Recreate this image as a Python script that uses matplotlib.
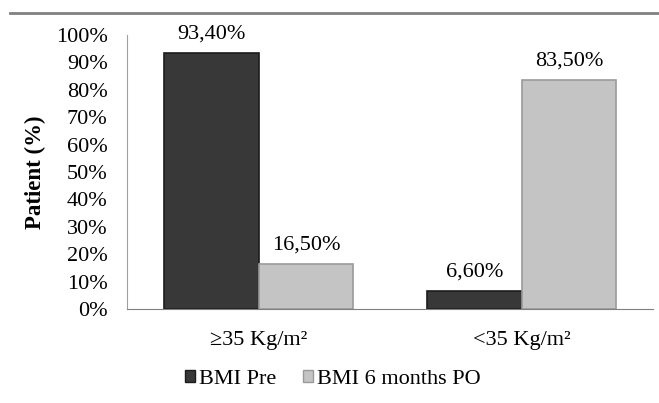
import matplotlib.pyplot as plt
import numpy as np
from matplotlib.lines import Line2D
from matplotlib.patches import Patch

plt.rcParams['font.family'] = ['Liberation Serif', 'DejaVu Serif']

categories = ['≥35 Kg/m²', '<35 Kg/m²']
series_names = ['BMI Pre', 'BMI 6 months PO']
bmi_pre = [93.4, 6.6]
bmi_6m = [16.5, 83.5]
labels_pre = ['93,40%', '6,60%']
labels_6m = ['16,50%', '83,50%']

colors = ['#383838', '#c4c4c4']
edges = ['#1c1c1c', '#9a9a9a']

fig = plt.figure(figsize=(6.59, 4.03), dpi=100)
ax = fig.add_axes([0.193, 0.233, 0.798, 0.680])

x = np.arange(len(categories))
w = 0.36
b1 = ax.bar(x - w / 2, bmi_pre, w, color=colors[0], edgecolor=edges[0], linewidth=1.2)
b2 = ax.bar(x + w / 2, bmi_6m, w, color=colors[1], edgecolor=edges[1], linewidth=1.2)

for bars, labs in [(b1, labels_pre), (b2, labels_6m)]:
    for r, t in zip(bars, labs):
        ax.annotate(t, (r.get_x() + r.get_width() / 2, r.get_height()),
                    xytext=(0, 7), textcoords='offset points',
                    ha='center', va='bottom', fontsize=16)

ax.set_xlim(-0.5, 1.5)
ax.set_ylim(0, 100)
ax.set_yticks(range(0, 101, 10))
ax.set_yticklabels([f'{v}%' for v in range(0, 101, 10)])
ax.set_xticks(x)
ax.set_xticklabels(categories)
ax.tick_params(axis='y', length=0, pad=14, labelsize=16)
ax.tick_params(axis='x', length=0, pad=16, labelsize=16)
ax.set_ylabel('Patient (%)', fontsize=16.5, fontweight='bold', labelpad=7)

for s in ['top', 'right']:
    ax.spines[s].set_visible(False)
ax.spines['left'].set_color('#a0a0a0')
ax.spines['bottom'].set_color('#808080')

handles = [Patch(facecolor=colors[0], edgecolor=edges[0]),
           Patch(facecolor=colors[1], edgecolor=edges[1])]
fig.legend(handles, series_names, loc='center', bbox_to_anchor=(0.505, 0.058),
           ncol=2, frameon=False, fontsize=16, handlelength=0.45, handleheight=0.45,
           handletextpad=0.2, columnspacing=1.2)

fig.add_artist(Line2D([0.015, 1.0], [0.968, 0.968], color='#808080', linewidth=2))

fig.savefig('out.png', dpi=100)
